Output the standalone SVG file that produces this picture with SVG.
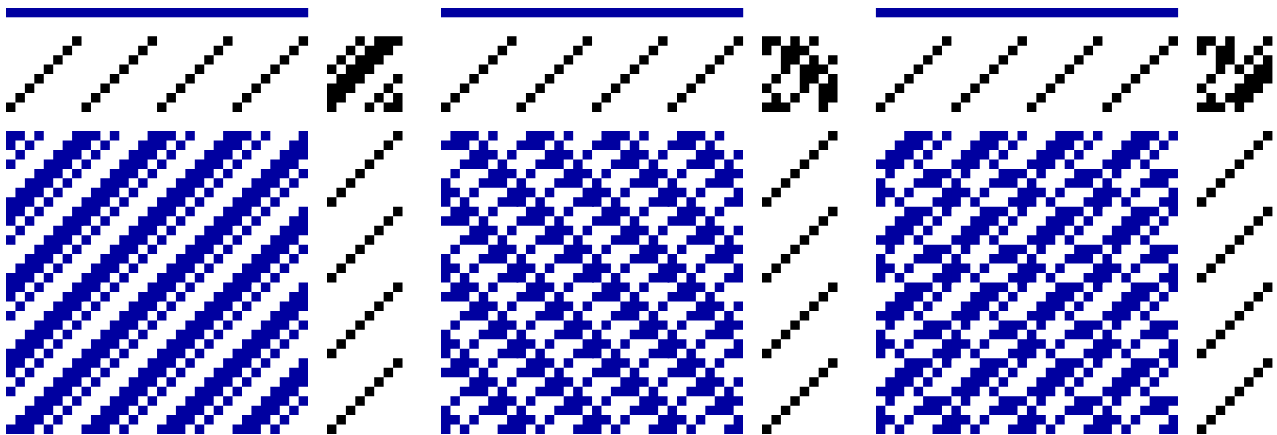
<svg xmlns="http://www.w3.org/2000/svg" width="1277" height="435" viewBox="0 0 1277 435">
<style>
.b{fill:#0000a0}
.k{fill:#000}
.c{clip-path:url(#gridclip)}
</style>
<defs>
<clipPath id="gridclip"><rect x="0" y="0" width="32" height="32"/></clipPath>
<path id="diag" d="M0 7h1v1h-1zM1 6h1v1h-1zM2 5h1v1h-1zM3 4h1v1h-1zM4 3h1v1h-1zM5 2h1v1h-1zM6 1h1v1h-1zM7 0h1v1h-1z"/>
<path id="tie1" d="M3 0h1v1h-1zM5 0h3v1h-3zM2 1h1v1h-1zM4 1h3v1h-3zM1 2h1v1h-1zM3 2h3v1h-3zM0 3h1v1h-1zM2 3h3v1h-3zM1 4h3v1h-3zM7 4h1v1h-1zM0 5h3v1h-3zM6 5h1v1h-1zM0 6h2v1h-2zM5 6h1v1h-1zM7 6h1v1h-1zM0 7h1v1h-1zM4 7h1v1h-1zM6 7h2v1h-2z"/>
<path id="tie2" d="M0 0h2v1h-2zM3 0h1v1h-1zM5 0h1v1h-1zM0 1h1v1h-1zM2 1h3v1h-3zM2 2h2v1h-2zM5 2h1v1h-1zM7 2h1v1h-1zM2 3h1v1h-1zM4 3h3v1h-3zM1 4h1v1h-1zM4 4h2v1h-2zM7 4h1v1h-1zM0 5h1v1h-1zM4 5h1v1h-1zM6 5h2v1h-2zM1 6h1v1h-1zM3 6h1v1h-1zM6 6h2v1h-2zM0 7h3v1h-3zM6 7h1v1h-1z"/>
<path id="tie3" d="M0 0h2v1h-2zM3 0h1v1h-1zM7 0h1v1h-1zM0 1h1v1h-1zM2 1h2v1h-2zM6 1h1v1h-1zM2 2h2v1h-2zM5 2h1v1h-1zM7 2h1v1h-1zM2 3h1v1h-1zM4 3h1v1h-1zM6 3h2v1h-2zM1 4h1v1h-1zM5 4h3v1h-3zM0 5h1v1h-1zM4 5h3v1h-3zM1 6h1v1h-1zM3 6h3v1h-3zM0 7h3v1h-3zM4 7h1v1h-1z"/>
<path id="dd1" d="M0 0h2v1h-2zM3 0h1v1h-1zM7 0h1v1h-1zM0 1h1v1h-1zM2 1h1v1h-1zM6 1h2v1h-2zM1 2h1v1h-1zM5 2h3v1h-3zM0 3h1v1h-1zM4 3h3v1h-3zM3 4h3v1h-3zM7 4h1v1h-1zM2 5h3v1h-3zM6 5h1v1h-1zM1 6h3v1h-3zM5 6h1v1h-1zM0 7h3v1h-3zM4 7h1v1h-1zM7.8 0h.4v1h-.4zM7.8 1h.4v1h-.4zM0 7.8h2v.4h-2z"/>
<path id="dd2" d="M1 0h3v1h-3zM5 0h1v1h-1zM0 1h3v1h-3zM4 1h1v1h-1zM3 2h3v1h-3zM7 2h1v1h-1zM2 3h3v1h-3zM6 3h1v1h-1zM1 4h1v1h-1zM5 4h3v1h-3zM0 5h1v1h-1zM4 5h3v1h-3zM0 6h2v1h-2zM3 6h1v1h-1zM7 6h1v1h-1zM0 7h1v1h-1zM2 7h1v1h-1zM6 7h2v1h-2zM7.8 6h.4v1h-.4zM7.8 7h.4v1h-.4zM2 7.8h1v.4h-1z"/>
<path id="dd3" d="M3 0h3v1h-3zM7 0h1v1h-1zM2 1h3v1h-3zM6 1h1v1h-1zM1 2h3v1h-3zM5 2h1v1h-1zM0 3h3v1h-3zM4 3h1v1h-1zM1 4h1v1h-1zM5 4h3v1h-3zM0 5h1v1h-1zM4 5h3v1h-3zM0 6h2v1h-2zM3 6h1v1h-1zM7 6h1v1h-1zM0 7h1v1h-1zM2 7h1v1h-1zM6 7h2v1h-2zM7.8 6h.4v1h-.4zM7.8 7h.4v1h-.4zM7 7.8h1v.4h-1z"/>
<g id="row"><use href="#diag" x="0"/><use href="#diag" x="8"/><use href="#diag" x="16"/><use href="#diag" x="24"/></g>
<g id="col"><use href="#diag" y="0"/><use href="#diag" y="8"/><use href="#diag" y="16"/><use href="#diag" y="24"/></g>
<g id="d1r"><use href="#dd1" x="0"/><use href="#dd1" x="8"/><use href="#dd1" x="16"/><use href="#dd1" x="24"/></g>
<g id="d2r"><use href="#dd2" x="0"/><use href="#dd2" x="8"/><use href="#dd2" x="16"/><use href="#dd2" x="24"/></g>
<g id="d3r"><use href="#dd3" x="0"/><use href="#dd3" x="8"/><use href="#dd3" x="16"/><use href="#dd3" x="24"/></g>
</defs>
<g id="panel-1">
<rect id="bar-1" x="6" y="8" width="302.2" height="9.3" fill="#0000a0"/>
<g id="threading-1" class="k" transform="translate(6,36.2) scale(9.44,9.47)"><use href="#row"/></g>
<g id="tieup-1" class="k" transform="translate(327,36.2) scale(9.44,9.47)"><use href="#tie1"/></g>
<g id="drawdown-1" class="b c" transform="translate(6,131) scale(9.44,9.47)"><use href="#d1r" y="0"/><use href="#d1r" y="8"/><use href="#d1r" y="16"/><use href="#d1r" y="24"/></g>
<g id="treadling-1" class="k" transform="translate(327,131) scale(9.44,9.47)"><use href="#col"/></g>
</g>
<g id="panel-2">
<rect id="bar-2" x="441" y="8" width="302.2" height="9.3" fill="#0000a0"/>
<g id="threading-2" class="k" transform="translate(441,36.2) scale(9.44,9.47)"><use href="#row"/></g>
<g id="tieup-2" class="k" transform="translate(762,36.2) scale(9.44,9.47)"><use href="#tie2"/></g>
<g id="drawdown-2" class="b c" transform="translate(441,131) scale(9.44,9.47)"><use href="#d2r" y="0"/><use href="#d2r" y="8"/><use href="#d2r" y="16"/><use href="#d2r" y="24"/></g>
<g id="treadling-2" class="k" transform="translate(762,131) scale(9.44,9.47)"><use href="#col"/></g>
</g>
<g id="panel-3">
<rect id="bar-3" x="875.9" y="8" width="302.2" height="9.3" fill="#0000a0"/>
<g id="threading-3" class="k" transform="translate(875.9,36.2) scale(9.44,9.47)"><use href="#row"/></g>
<g id="tieup-3" class="k" transform="translate(1196.9,36.2) scale(9.44,9.47)"><use href="#tie3"/></g>
<g id="drawdown-3" class="b c" transform="translate(875.9,131) scale(9.44,9.47)"><use href="#d3r" y="0"/><use href="#d3r" y="8"/><use href="#d3r" y="16"/><use href="#d3r" y="24"/></g>
<g id="treadling-3" class="k" transform="translate(1196.9,131) scale(9.44,9.47)"><use href="#col"/></g>
</g>
</svg>
